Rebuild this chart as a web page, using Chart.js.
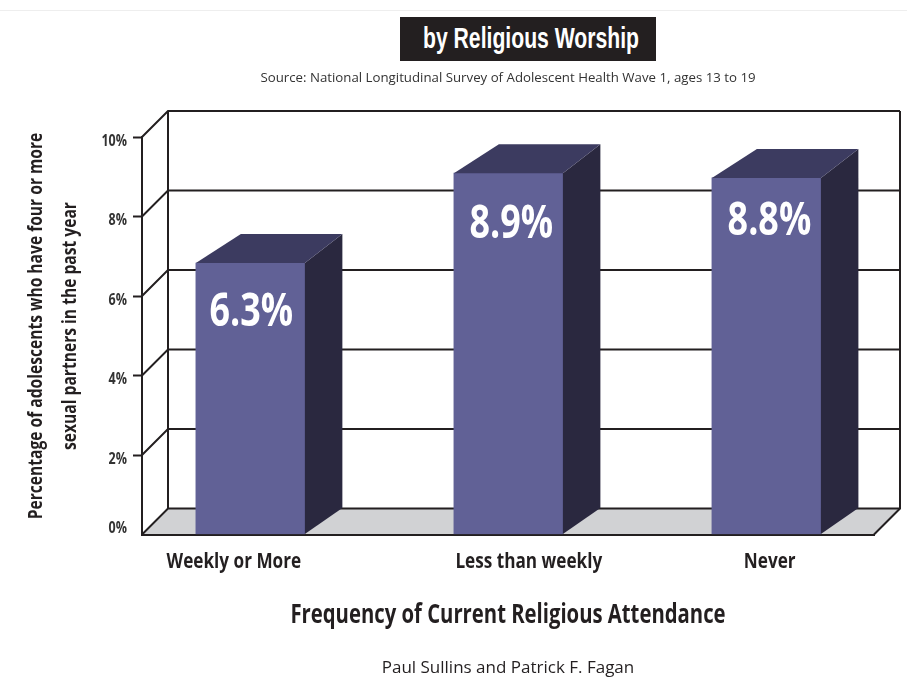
<!DOCTYPE html>
<html>
<head>
<meta charset="utf-8">
<title>by Religious Worship</title>
<script src="https://cdn.jsdelivr.net/npm/chart.js@4/dist/chart.umd.min.js"></script>
<style>
  body { margin: 0; background: #fff; }
  #wrap { position: relative; width: 907px; height: 677px; overflow: hidden; }
  #rule { position: absolute; left: 0; right: 0; top: 10px; height: 1px; background: #eeeeee; }
  #titlebox { position: absolute; left: 400px; top: 17px; width: 256px; height: 44px; background: #231f20; }
  #title { position: absolute; left: 131px; top: 0; white-space: nowrap; color: #fff;
    font: bold 29px/43px "Liberation Sans", sans-serif; transform: translateX(-50%) scaleX(0.73); }
  #source { position: absolute; left: 208px; width: 600px; top: 68px; text-align: center; color: #333;
    font: 13.25px/18px "Open Sans", sans-serif; }
  #authors { position: absolute; left: 208px; width: 600px; top: 656px; text-align: center; color: #231f20;
    font: 17px/22px "Open Sans", sans-serif; }
  canvas { position: absolute; left: 0; top: 0; }
</style>
</head>
<body>
<div id="wrap">
  <div id="rule"></div>
  <canvas id="chart" width="907" height="677"></canvas>
  <div id="titlebox"><div id="title">by Religious Worship</div></div>
  <div id="source">Source: National Longitudinal Survey of Adolescent Health Wave 1, ages 13 to 19</div>
  <div id="authors">Paul Sullins and Patrick F. Fagan</div>
</div>
<script>
const categories = ["Weekly or More", "Less than weekly", "Never"];
// bar tops as drawn against the axis (the picture's bars sit above their printed numbers)
const barHeights = [6.83, 9.09, 8.97];
const printedValues = ["6.3%", "8.9%", "8.8%"];
const barPositions = [0, 1, 2];
// the labels are not quite centred under the bars in the original
const labelPositions = [-0.064, 1.079, 2.013];
const yTitle = ["Percentage of adolescents who have four or more", "sexual partners in the past year"];
const xTitle = "Frequency of Current Religious Attendance";

const face = "'Open Sans', sans-serif";
const dark = "#231f20";

const canvas = document.getElementById("chart");
const context = canvas.getContext("2d");
// no condensed font is installed, so squeeze all canvas text sideways
const plainFillText = context.fillText;
context.fillText = function (text, x, y) {
  this.save();
  this.translate(x, y);
  this.scale(0.78, 1);
  plainFillText.call(this, text, 0, 0);
  this.restore();
};

const room = {
  id: "room",
  beforeDraw(chart) {
    const { ctx, chartArea: a, scales: { y } } = chart;
    const dx = 26, dy = 26;
    const base = y.getPixelForValue(0);
    ctx.save();
    // floor
    ctx.fillStyle = "#d1d2d4";
    ctx.beginPath();
    ctx.moveTo(a.left, base);
    ctx.lineTo(a.left + dx, base - dy);
    ctx.lineTo(a.right + dx, base - dy);
    ctx.lineTo(a.right, base);
    ctx.closePath();
    ctx.fill();
    // walls
    ctx.strokeStyle = dark;
    ctx.lineWidth = 2;
    for (const t of y.ticks) {
      const py = y.getPixelForValue(t.value);
      ctx.beginPath();
      ctx.moveTo(a.left, py);
      ctx.lineTo(a.left + dx, py - dy);
      ctx.lineTo(a.right + dx, py - dy);
      ctx.stroke();
    }
    const top = y.getPixelForValue(10);
    ctx.beginPath();
    ctx.moveTo(a.left + dx, top - dy);
    ctx.lineTo(a.left + dx, base - dy);
    ctx.moveTo(a.right + dx, top - dy);
    ctx.lineTo(a.right + dx, base - dy);
    ctx.lineTo(a.right, base);
    ctx.stroke();
    ctx.restore();
  },
};

const blocks = {
  id: "blocks",
  afterDatasetsDraw(chart) {
    const { ctx } = chart;
    // how far each printed number sits below its bar top
    const drop = [50, 52, 44];
    ctx.save();
    chart.getDatasetMeta(0).data.forEach((bar, i) => {
      const left = bar.x - bar.width / 2;
      const right = bar.x + bar.width / 2;
      // side face
      ctx.fillStyle = "#2a283f";
      ctx.beginPath();
      ctx.moveTo(right, bar.base);
      ctx.lineTo(right + 37.5, bar.base - 26);
      ctx.lineTo(right + 37.5, bar.y - 29);
      ctx.lineTo(right, bar.y);
      ctx.closePath();
      ctx.fill();
      // top face
      ctx.fillStyle = "#3c3b60";
      ctx.beginPath();
      ctx.moveTo(left, bar.y);
      ctx.lineTo(left + 45, bar.y - 29);
      ctx.lineTo(right + 37.5, bar.y - 29);
      ctx.lineTo(right, bar.y);
      ctx.closePath();
      ctx.fill();
      // printed value
      ctx.fillStyle = "#fff";
      ctx.font = "bold 46px " + face;
      ctx.textAlign = "center";
      ctx.textBaseline = "middle";
      ctx.fillText(printedValues[i], bar.x + (i ? 3 : 1), bar.y + drop[i]);
    });
    ctx.restore();
  },
  afterDraw(chart) {
    const { ctx } = chart;
    ctx.save();
    ctx.fillStyle = dark;
    ctx.font = "bold 20px " + face;
    ctx.textAlign = "center";
    ctx.textBaseline = "middle";
    ctx.translate(36, 326);
    ctx.rotate(-Math.PI / 2);
    ctx.fillText(yTitle[0], 0, 0);
    ctx.fillText(yTitle[1], 0, 34);
    ctx.restore();
  },
};

new Chart(canvas, {
  type: "bar",
  data: {
    datasets: [
      {
        data: barPositions.map((p, i) => ({ x: p, y: barHeights[i] })),
        backgroundColor: "#616196",
        barThickness: 109,
      },
    ],
  },
  plugins: [room, blocks],
  options: {
    responsive: false,
    animation: false,
    layout: { padding: { left: 24, right: 33, top: 137, bottom: 46 } },
    plugins: { legend: { display: false }, tooltip: { enabled: false } },
    scales: {
      x: {
        type: "linear",
        offset: false,
        min: -0.42,
        max: 2.417,
        afterBuildTicks(scale) {
          scale.ticks = labelPositions.map((v) => ({ value: v }));
        },
        afterFit(scale) {
          scale.height = 96.5;
        },
        grid: { display: false, drawTicks: false },
        border: { color: dark, width: 2 },
        ticks: {
          autoSkip: false,
          maxRotation: 0,
          padding: 14,
          color: dark,
          font: { family: face, weight: "bold", size: 22 },
          callback: (v, i) => categories[i],
        },
        title: {
          display: true,
          text: xTitle,
          color: dark,
          padding: { top: 26, bottom: 0 },
          font: { family: face, weight: "bold", size: 26 },
        },
      },
      y: {
        min: 0,
        max: 10,
        afterFit(scale) {
          scale.width = 118;
        },
        grid: {
          drawOnChartArea: false,
          tickLength: 9,
          tickWidth: 2,
          tickColor: (c) => (c.tick.value === 0 ? "transparent" : dark),
        },
        border: { color: dark, width: 2 },
        ticks: {
          stepSize: 2,
          padding: 6,
          labelOffset: 4,
          color: "#333",
          font: { family: face, weight: "bold", size: 16 },
          // the 0% label sits above its line in the original
          callback: (v) => (v === 0 ? ["0%", ""] : v + "%"),
        },
      },
    },
  },
});
</script>
</body>
</html>
